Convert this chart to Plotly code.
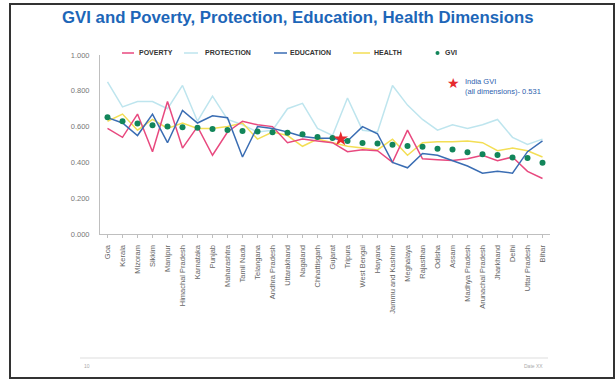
import plotly.graph_objects as go

STATES = ["Goa", "Kerala", "Mizoram", "Sikkim", "Manipur", "Himachal Pradesh", "Karnataka",
          "Punjab", "Maharashtra", "Tamil Nadu", "Telangana", "Andhra Pradesh", "Uttarakhand",
          "Nagaland", "Chhattisgarh", "Gujarat", "Tripura", "West Bengal", "Haryana",
          "Jammu and Kashmir", "Meghalaya", "Rajasthan", "Odisha", "Assam", "Madhya Pradesh",
          "Arunachal Pradesh", "Jharkhand", "Delhi", "Uttar Pradesh", "Bihar"]

POVERTY = [0.59, 0.54, 0.67, 0.46, 0.74, 0.48, 0.60, 0.44, 0.57, 0.63, 0.61, 0.60, 0.51, 0.53,
           0.52, 0.51, 0.46, 0.47, 0.465, 0.40, 0.58, 0.42, 0.415, 0.41, 0.42, 0.44, 0.41, 0.43,
           0.35, 0.31]
PROTECTION = [0.85, 0.71, 0.74, 0.74, 0.70, 0.83, 0.63, 0.77, 0.64, 0.61, 0.57, 0.58, 0.70, 0.73,
              0.59, 0.55, 0.76, 0.58, 0.57, 0.83, 0.72, 0.64, 0.58, 0.61, 0.59, 0.61, 0.64, 0.54,
              0.50, 0.53]
EDUCATION = [0.65, 0.62, 0.55, 0.67, 0.51, 0.69, 0.62, 0.66, 0.65, 0.43, 0.60, 0.59, 0.57, 0.545,
             0.535, 0.535, 0.52, 0.60, 0.56, 0.40, 0.37, 0.45, 0.44, 0.41, 0.38, 0.34, 0.35, 0.34,
             0.46, 0.52]
HEALTH = [0.63, 0.67, 0.58, 0.64, 0.59, 0.62, 0.59, 0.59, 0.60, 0.62, 0.53, 0.57, 0.55, 0.49,
          0.53, 0.51, 0.49, 0.48, 0.47, 0.53, 0.44, 0.51, 0.515, 0.515, 0.52, 0.51, 0.465, 0.48,
          0.465, 0.43]
GVI = [0.652, 0.630, 0.618, 0.607, 0.600, 0.597, 0.594, 0.586, 0.581, 0.576, 0.572, 0.568, 0.566,
       0.557, 0.542, 0.537, 0.520, 0.509, 0.506, 0.498, 0.492, 0.488, 0.476, 0.472, 0.457, 0.446,
       0.441, 0.428, 0.424, 0.398]
INDIA_GVI = 0.531
Y_TICKS = [0.0, 0.2, 0.4, 0.6, 0.8, 1.0]

W, H = 616, 381
L, R, T, B = 100, 66, 55, 147
PW, PH = W - L - R, H - T - B


def px(x):
    return (x - L) / PW


def py(y):
    return (H - B - y) / PH


C_POV = "#E8497F"
C_PRO = "#BEE5EE"
C_EDU = "#3A6DB3"
C_HEA = "#F3DE55"
C_GVI = "#12855A"
C_STAR = "#E62A2E"
FONT = "Arial, Liberation Sans, sans-serif"

xs = list(range(len(STATES)))
fig = go.Figure()
for name, vals, col in [("PROTECTION", PROTECTION, C_PRO), ("HEALTH", HEALTH, C_HEA),
                        ("POVERTY", POVERTY, C_POV), ("EDUCATION", EDUCATION, C_EDU)]:
    fig.add_trace(go.Scatter(x=xs, y=vals, mode="lines", name=name,
                             line=dict(color=col, width=1.5), showlegend=False))
fig.add_trace(go.Scatter(x=xs, y=GVI, mode="markers", name="GVI",
                         marker=dict(color=C_GVI, size=6), showlegend=False))
# India star between Gujarat and Tripura
gi = STATES.index("Gujarat")
fig.add_trace(go.Scatter(x=[gi + 0.55], y=[INDIA_GVI], mode="markers", name="India GVI",
                         marker=dict(symbol="star", color=C_STAR, size=11, line=dict(width=0)),
                         showlegend=False))

shapes = []
ann = []
# outer frame
shapes.append(dict(type="rect", xref="paper", yref="paper", x0=px(10), x1=px(614), y0=py(378),
                   y1=py(4), line=dict(color="#333333", width=2), fillcolor="rgba(0,0,0,0)",
                   layer="above"))
# footer line
shapes.append(dict(type="line", xref="paper", yref="paper", x0=px(80), x1=px(548), y0=py(358),
                   y1=py(358), line=dict(color="#dddddd", width=1)))
ann.append(dict(text="10", xref="paper", yref="paper", x=px(82), y=py(366), xanchor="left",
                yanchor="middle", showarrow=False, font=dict(size=5, color="#aaaaaa", family=FONT)))
ann.append(dict(text="Date XX", xref="paper", yref="paper", x=px(545), y=py(366), xanchor="right",
                yanchor="middle", showarrow=False, font=dict(size=5, color="#aaaaaa", family=FONT)))

# title
ann.append(dict(text="<b>GVI and Poverty, Protection, Education, Health Dimensions</b>",
                xref="paper", yref="paper", x=px(60), y=py(18), xanchor="left", yanchor="middle",
                showarrow=False, font=dict(size=16.8, color="#1D66B8", family=FONT)))

# manual legend
leg_y = py(53)
for name, col, lx0, lx1, tx in [("POVERTY", C_POV, 122, 134, 137),
                                ("PROTECTION", C_PRO, 184, 198, 203),
                                ("EDUCATION", C_EDU, 274, 287, 288),
                                ("HEALTH", C_HEA, 353, 370, 372)]:
    shapes.append(dict(type="line", xref="paper", yref="paper", x0=px(lx0), x1=px(lx1), y0=leg_y,
                       y1=leg_y, line=dict(color=col, width=1.5)))
    ann.append(dict(text="<b>" + name + "</b>", xref="paper", yref="paper", x=px(tx), y=leg_y,
                    xanchor="left", yanchor="middle", showarrow=False,
                    font=dict(size=7, color="#333333", family=FONT)))
shapes.append(dict(type="circle", xref="paper", yref="paper", x0=px(435.5), x1=px(439.5),
                   y0=py(55), y1=py(51), line=dict(width=0), fillcolor=C_GVI))
ann.append(dict(text="<b>GVI</b>", xref="paper", yref="paper", x=px(443), y=leg_y,
                xanchor="left", yanchor="middle", showarrow=False,
                font=dict(size=7, color="#333333", family=FONT)))

# India GVI key
ann.append(dict(text="\u2605", xref="paper", yref="paper", x=px(453), y=py(83), xanchor="center",
                yanchor="middle", showarrow=False, font=dict(size=14, color=C_STAR, family="DejaVu Sans")))
ann.append(dict(text="India GVI<br>(all dimensions)- %.3f" % INDIA_GVI, xref="paper", yref="paper",
                x=px(463), y=py(86), xanchor="left", yanchor="middle", align="left",
                showarrow=False, font=dict(size=7.5, color="#2E62AE", family=FONT)))

fig.update_layout(
    width=W, height=H, margin=dict(l=L, r=R, t=T, b=B, autoexpand=False),
    paper_bgcolor="white", plot_bgcolor="white", showlegend=False,
    shapes=shapes, annotations=ann,
    xaxis=dict(range=[-0.5, len(STATES) - 0.5], tickmode="array", tickvals=xs, ticktext=STATES,
               tickangle=-90, showgrid=False, zeroline=False, showline=True, linecolor="#bfbfbf",
               linewidth=1, ticks="outside", ticklen=3, tickcolor="#bfbfbf",
               tickfont=dict(size=7.5, color="#666666", family=FONT), ticklabelstandoff=4),
    yaxis=dict(range=[0, 1], tickmode="array", tickvals=Y_TICKS,
               ticktext=["%.3f" % v for v in Y_TICKS], showgrid=False, zeroline=False,
               showline=True, linecolor="#bfbfbf", linewidth=1, ticks="",
               tickfont=dict(size=7.5, color="#777777", family=FONT), ticklabelstandoff=8),
)

fig.write_html("out.html")
